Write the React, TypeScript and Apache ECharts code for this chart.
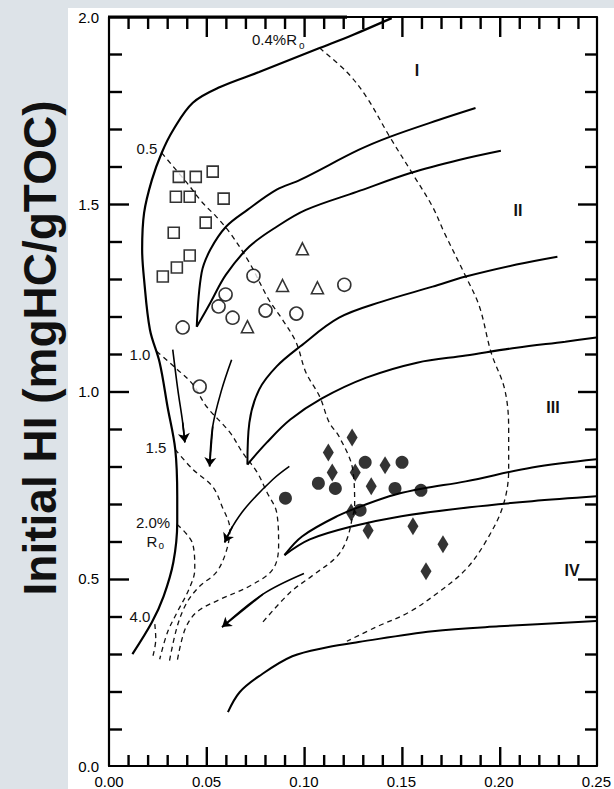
import React, { useEffect, useRef } from "react";
import * as echarts from "echarts";

// ---------- tick labels ----------
const xTickLabels = ["0.00", "0.05", "0.10", "0.15", "0.20", "0.25"];
const yTickLabels = ["0.0", "0.5", "1.0", "1.5", "2.0"];

// ---------- solid kerogen-type boundary curves [x, y] ----------
const outerCurve = [
  [0.145, 1.997], [0.125, 1.952], [0.108, 1.917], [0.077, 1.853], [0.057, 1.813],
  [0.043, 1.771], [0.033, 1.699], [0.027, 1.637], [0.022, 1.565], [0.018, 1.477],
  [0.017, 1.379], [0.018, 1.299], [0.021, 1.165], [0.026, 1.077], [0.030, 0.960],
  [0.034, 0.845], [0.035, 0.720], [0.035, 0.651], [0.033, 0.544], [0.028, 0.453],
  [0.022, 0.384], [0.012, 0.299],
];
const typeIUpper = [
  [0.045, 1.173], [0.0475, 1.317], [0.052, 1.379], [0.06, 1.44], [0.071, 1.485],
  [0.086, 1.539], [0.098, 1.565], [0.128, 1.645], [0.144, 1.68], [0.169, 1.725], [0.188, 1.757],
];
const typeILower = [
  [0.045, 1.173], [0.052, 1.237], [0.06, 1.312], [0.072, 1.387], [0.086, 1.44],
  [0.101, 1.485], [0.127, 1.533], [0.155, 1.584], [0.18, 1.619], [0.201, 1.643],
];
const typeIIUpper = [
  [0.071, 0.805], [0.072, 0.917], [0.077, 1.005], [0.086, 1.067], [0.098, 1.12],
  [0.118, 1.197], [0.14, 1.24], [0.166, 1.28], [0.183, 1.307], [0.209, 1.339], [0.23, 1.36],
];
const typeIILower = [
  [0.071, 0.805], [0.081, 0.864], [0.093, 0.925], [0.109, 0.981], [0.132, 1.037],
  [0.158, 1.077], [0.183, 1.096], [0.209, 1.117], [0.234, 1.133], [0.25, 1.144],
];
const typeIIIUpper = [
  [0.09, 0.563], [0.099, 0.613], [0.117, 0.667], [0.132, 0.699], [0.147, 0.725],
  [0.161, 0.741], [0.183, 0.76], [0.217, 0.797], [0.25, 0.819],
];
const typeIIILower = [
  [0.09, 0.563], [0.103, 0.605], [0.125, 0.64], [0.15, 0.667], [0.185, 0.691],
  [0.217, 0.707], [0.25, 0.72],
];
const bottomCurve = [
  [0.061, 0.144], [0.067, 0.197], [0.077, 0.24], [0.094, 0.293], [0.112, 0.317],
  [0.128, 0.331], [0.166, 0.36], [0.2, 0.373], [0.25, 0.387],
];

// ---------- dashed iso-reflectance lines ----------
const ro04 = [
  [0.108, 1.917], [0.122, 1.853], [0.132, 1.787], [0.144, 1.68], [0.156, 1.579],
  [0.166, 1.493], [0.172, 1.424], [0.183, 1.307], [0.19, 1.227], [0.196, 1.104],
  [0.203, 1.005], [0.205, 0.899], [0.205, 0.792], [0.202, 0.693], [0.193, 0.597],
  [0.183, 0.525], [0.169, 0.464], [0.154, 0.411], [0.137, 0.371], [0.122, 0.333],
];
const ro05 = [
  [0.027, 1.637], [0.04, 1.557], [0.048, 1.504], [0.055, 1.467], [0.062, 1.424],
  [0.072, 1.344], [0.082, 1.245], [0.089, 1.192], [0.096, 1.131], [0.101, 1.051],
  [0.108, 0.987], [0.113, 0.917], [0.118, 0.88], [0.125, 0.792], [0.126, 0.693],
  [0.125, 0.667], [0.122, 0.605], [0.117, 0.56], [0.104, 0.507], [0.093, 0.464], [0.078, 0.379],
];
const ro10 = [
  [0.0245, 1.107], [0.035, 1.059], [0.043, 1.019], [0.05, 0.96], [0.062, 0.891],
  [0.0685, 0.837], [0.076, 0.784], [0.081, 0.731], [0.086, 0.677], [0.087, 0.589],
  [0.084, 0.525], [0.072, 0.48], [0.057, 0.445], [0.045, 0.411], [0.039, 0.365], [0.035, 0.28],
];
const ro15 = [
  [0.034, 0.845], [0.043, 0.792], [0.053, 0.747], [0.058, 0.693], [0.062, 0.632],
  [0.06, 0.571], [0.055, 0.517], [0.0465, 0.48], [0.04, 0.437], [0.035, 0.373], [0.031, 0.28],
];
const ro20 = [
  [0.035, 0.645], [0.043, 0.592], [0.044, 0.525], [0.041, 0.472], [0.035, 0.411],
  [0.03, 0.357], [0.026, 0.285],
];
const ro40 = [[0.0235, 0.379], [0.024, 0.339], [0.0225, 0.293]];

// ---------- maturation arrows ----------
const arrow1 = [[0.0925, 0.8], [0.084, 0.765], [0.0706, 0.693], [0.0634, 0.64], [0.0593, 0.597]];
const arrow2 = [[0.1, 0.514], [0.079, 0.459], [0.058, 0.371]];
const arrow3 = [[0.0327, 1.112], [0.0353, 1.005], [0.0378, 0.917], [0.0389, 0.864]];
const arrow4 = [[0.0629, 1.085], [0.0578, 1.005], [0.0532, 0.907], [0.0516, 0.8]];

// ---------- samples ----------
const openSquares = [
  [0.0358, 1.573], [0.0445, 1.573], [0.0532, 1.587], [0.0343, 1.52], [0.0414, 1.52],
  [0.0588, 1.515], [0.0496, 1.451], [0.0332, 1.424], [0.0414, 1.363], [0.0348, 1.331], [0.0276, 1.307],
];
const openCircles = [
  [0.0378, 1.171], [0.0598, 1.259], [0.0562, 1.227], [0.0634, 1.197], [0.0741, 1.309],
  [0.0803, 1.216], [0.0961, 1.208], [0.1207, 1.285], [0.0465, 1.013],
];
const openTriangles = [[0.0992, 1.381], [0.089, 1.283], [0.1069, 1.277], [0.071, 1.173]];
const filledCircles = [
  [0.0905, 0.715], [0.1074, 0.755], [0.1161, 0.741], [0.1314, 0.811], [0.1503, 0.811],
  [0.1467, 0.741], [0.16, 0.736], [0.1288, 0.683],
];
const filledDiamonds = [
  [0.1247, 0.877], [0.1125, 0.837], [0.1145, 0.784], [0.1263, 0.784], [0.1416, 0.803],
  [0.1345, 0.747], [0.1242, 0.677], [0.1329, 0.629], [0.1559, 0.64], [0.1713, 0.592], [0.1626, 0.52],
];

const FONT = '"Liberation Sans", Arial, Helvetica, sans-serif';
const X_MIN = 0, X_MAX = 0.25, X_STEP = 0.05, X_MINOR = 0.01;
const Y_MIN = 0, Y_MAX = 2.0, Y_STEP = 0.5, Y_MINOR = 0.1;
const GRID = { left: 109, top: 17, width: 489, height: 750 };

function solid(data: number[][], width = 2) {
  return {
    type: "line", data, smooth: 0.35, showSymbol: false, symbol: "none", silent: true,
    lineStyle: { color: "#000", width }, z: 3,
  };
}
function dashed(data: number[][]) {
  return {
    type: "line", data, smooth: 0.35, showSymbol: false, symbol: "none", silent: true,
    lineStyle: { color: "#111", width: 1.3, type: [5, 4] }, z: 2,
  };
}
function scatter(data: number[][], symbol: string, size: any, filled: boolean) {
  return {
    type: "scatter", data, symbol, symbolSize: size, z: 5,
    itemStyle: filled
      ? { color: "#000" }
      : { color: "#fff", borderColor: "#000", borderWidth: 1.6 },
  };
}
function axisCommon(isX: boolean, showLabel: boolean, position: string) {
  return {
    type: "value",
    position,
    min: isX ? X_MIN : Y_MIN,
    max: isX ? X_MAX : Y_MAX,
    interval: isX ? X_STEP : Y_STEP,
    axisLine: { show: true, onZero: false, lineStyle: { color: "#000", width: 2.2 } },
    axisTick: { show: false },
    minorTick: { show: false },
    splitLine: { show: false },
    minorSplitLine: { show: false },
    axisLabel: {
      show: showLabel,
      fontSize: 15,
      color: "#000",
      fontFamily: FONT,
      margin: isX ? 8 : 10,
      formatter: (_v: number, i: number) => (isX ? xTickLabels[i] : yTickLabels[i]),
    },
  };
}

// linear scales of the grid (same mapping as the value axes)
const sx = (x: number) => GRID.left + ((x - X_MIN) / (X_MAX - X_MIN)) * GRID.width;
const sy = (y: number) => GRID.top + GRID.height - ((y - Y_MIN) / (Y_MAX - Y_MIN)) * GRID.height;

// inward tick marks on all four sides, drawn as thin filled rects
function buildTicks() {
  const els: any[] = [];
  const T = 2.4;
  const nx = Math.round((X_MAX - X_MIN) / X_MINOR);
  const xMajEvery = Math.round(X_STEP / X_MINOR);
  const bottom = sy(Y_MIN), top = sy(Y_MAX);
  for (let i = 1; i < nx; i++) {
    const px = sx(X_MIN + i * X_MINOR);
    const len = i % xMajEvery === 0 ? 20 : 12;
    els.push({ type: "rect", z: 30, shape: { x: px - T / 2, y: bottom - len, width: T, height: len }, style: { fill: "#000" } });
    els.push({ type: "rect", z: 30, shape: { x: px - T / 2, y: top, width: T, height: len }, style: { fill: "#000" } });
  }
  const ny = Math.round((Y_MAX - Y_MIN) / Y_MINOR);
  const yMajEvery = Math.round(Y_STEP / Y_MINOR);
  const left = sx(X_MIN), right = sx(X_MAX);
  for (let j = 1; j < ny; j++) {
    const py = sy(Y_MIN + j * Y_MINOR);
    const len = j % yMajEvery === 0 ? 20 : 13;
    els.push({ type: "rect", z: 30, shape: { x: left, y: py - T / 2, width: len, height: T }, style: { fill: "#000" } });
    els.push({ type: "rect", z: 30, shape: { x: right - len, y: py - T / 2, width: len, height: T }, style: { fill: "#000" } });
  }
  return els;
}

function txt(x: number, y: number, text: string, size = 15, weight = "normal", align = "center") {
  return {
    type: "text", x, y, z: 20,
    style: {
      text, fontSize: size, fontWeight: weight, fontFamily: FONT, fill: "#111",
      align, verticalAlign: "middle",
    },
  };
}

export default function App() {
  const ref = useRef<HTMLDivElement>(null);
  useEffect(() => {
    if (!ref.current) return;
    const chart = echarts.init(ref.current, undefined, { renderer: "svg" });
    const arrows = [arrow1, arrow2, arrow3, arrow4];
    const option: any = {
      animation: false,
      backgroundColor: "#ffffff",
      grid: { ...GRID, containLabel: false },
      xAxis: [axisCommon(true, true, "bottom"), axisCommon(true, false, "top")],
      yAxis: [axisCommon(false, true, "left"), axisCommon(false, false, "right")],
      series: [
        solid(outerCurve, 2.2),
        solid(typeIUpper),
        solid(typeILower),
        solid(typeIIUpper),
        solid(typeIILower),
        solid(typeIIIUpper),
        solid(typeIIILower),
        solid(bottomCurve),
        dashed(ro04),
        dashed(ro05),
        dashed(ro10),
        dashed(ro15),
        dashed(ro20),
        dashed(ro40),
        ...arrows.map((a) => solid(a, 1.6)),
        {
          type: "lines",
          coordinateSystem: "cartesian2d",
          silent: true,
          symbol: ["none", "arrow"],
          symbolSize: 9,
          lineStyle: { color: "#000", width: 1.6, opacity: 1 },
          data: arrows.map((a) => ({ coords: [a[a.length - 2], a[a.length - 1]] })),
          z: 4,
        },
        scatter(openSquares, "rect", 11, false),
        scatter(openCircles, "circle", 13, false),
        scatter(openTriangles, "triangle", 12, false),
        scatter(filledCircles, "circle", 13, true),
        scatter(filledDiamonds, "diamond", [11, 18], true),
      ],
      graphic: [
        { type: "rect", z: -1, shape: { x: 0, y: 0, width: 68, height: 789 }, style: { fill: "#dde3e8" } },
        { type: "rect", z: -1, shape: { x: 0, y: 0, width: 614, height: 8 }, style: { fill: "#dde3e8" } },
        { type: "rect", z: 10, shape: { x: 108, y: 15.5, width: 239, height: 3.2 }, style: { fill: "#000" } },
        {
          type: "text", x: 40, y: 348, rotation: Math.PI / 2, z: 20,
          style: {
            text: "Initial HI (mgHC/gTOC)", fontSize: 46, fontWeight: "bold", fontFamily: FONT,
            fill: "#111", align: "center", verticalAlign: "middle",
          },
        },
        txt(252, 39, "0.4%R", 15, "normal", "left"),
        txt(299, 45, "o", 10, "normal", "left"),
        txt(147, 148, "0.5"),
        txt(140, 354, "1.0"),
        txt(156, 447, "1.5"),
        txt(153, 522, "2.0%"),
        txt(152, 541, "R", 15, "normal", "center"),
        txt(158.5, 545, "o", 10, "normal", "left"),
        txt(140, 616, "4.0"),
        txt(417, 70, "I", 16, "bold"),
        txt(518, 210, "II", 16, "bold"),
        txt(553, 407, "III", 16, "bold"),
        txt(572, 570, "IV", 16, "bold"),
        ...buildTicks(),
      ],
    };
    chart.setOption(option);
    return () => chart.dispose();
  }, []);
  return (
    <div
      ref={ref}
      style={{ position: "absolute", left: 0, top: 0, width: 614, height: 789 }}
    />
  );
}
